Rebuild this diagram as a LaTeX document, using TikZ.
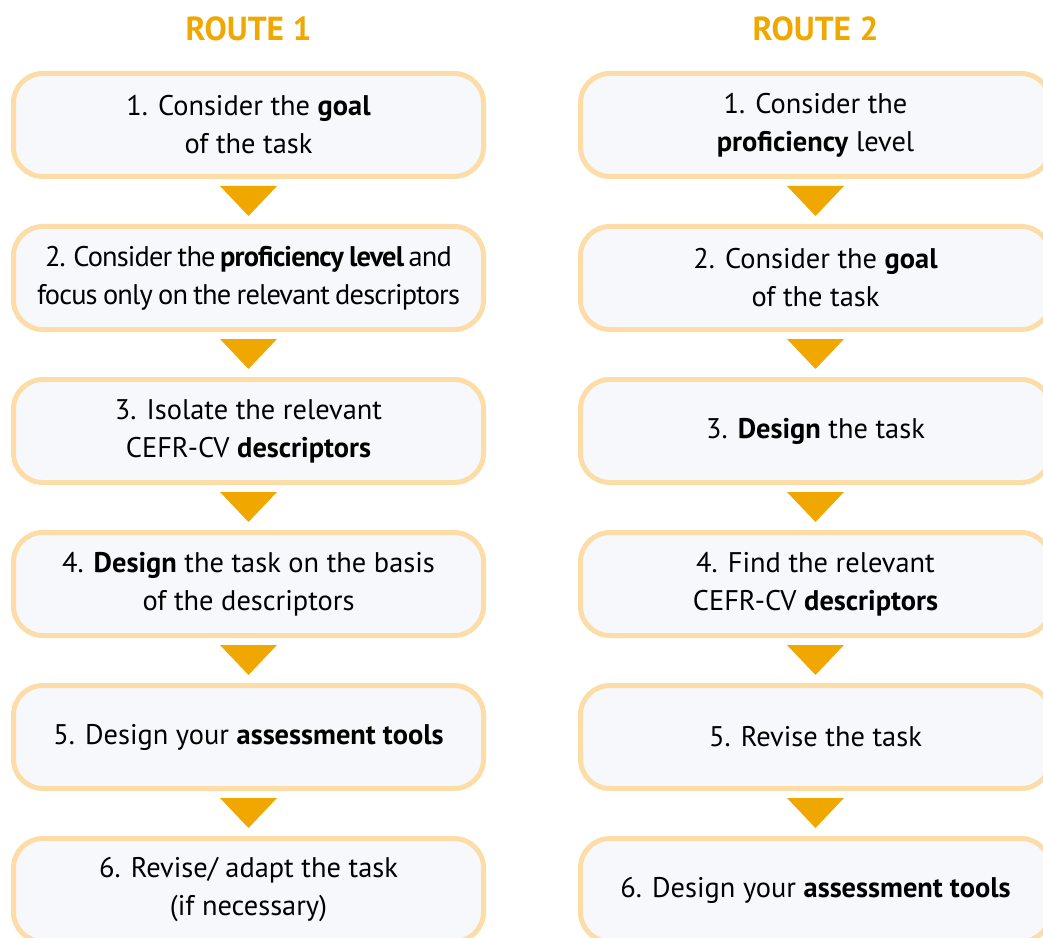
\documentclass[tikz,border=0pt]{standalone}
\usepackage{fontspec}
\setmainfont{PT Sans}
\newfontfamily\tightfont[LetterSpace=-3.0,WordSpace=0.8]{PT Sans}
\usepackage{tikz}
\usetikzlibrary{calc}
\usetikzlibrary{positioning}

\definecolor{routeorange}{RGB}{240,167,0}
\definecolor{boxline}{RGB}{252,221,167}
\definecolor{boxfill}{RGB}{247,248,252}

\begin{document}
\begin{tikzpicture}[x=0.75pt, y=-0.75pt,
		stepbox/.style={draw=boxline, fill=boxfill, line width=3.75pt, rounded corners=22pt,
			minimum width=352.5pt, minimum height=77.25pt, inner sep=0pt, align=center,
			font=\fontsize{21.3}{28.5}\selectfont},
		routehead/.style={text=routeorange, font=\fontsize{25}{28}\selectfont\bfseries},
		downtri/.style={fill=routeorange}]
	\useasboundingbox (0,0) rectangle (1043,938);
	\clip (0,0) rectangle (1043,938);
	
	\node[routehead] (h1) at (248.5,29) {ROUTE 1};
	\node[routehead] (h2) at (815.5,29) {ROUTE 2};
	
	% route 1
	\node[stepbox] (l1) at (248.5,125) {1. Consider the \textbf{goal}\\of the task};
	\node[stepbox, font=\fontsize{21.3}{28.5}\selectfont\tightfont] (l2) at (248.5,278) {2. Consider the \textbf{proficiency level} and\\focus only on the relevant descriptors};
	\node[stepbox] (l3) at (248.5,431) {3. Isolate the relevant\\CEFR-CV \textbf{descriptors}};
	\node[stepbox] (l4) at (248.5,584) {4. \textbf{Design} the task on the basis\\of the descriptors};
	\node[stepbox] (l5) at (248.5,737) {5. Design your \textbf{assessment tools}};
	\node[stepbox] (l6) at (248.5,890) {6. Revise/ adapt the task\\(if necessary)};
	
	% route 2
	\node[stepbox] (r1) at (815.5,125) {1. Consider the\\\textbf{proficiency} level};
	\node[stepbox] (r2) at (815.5,278) {2. Consider the \textbf{goal}\\of the task};
	\node[stepbox] (r3) at (815.5,431) {3. \textbf{Design} the task};
	\node[stepbox] (r4) at (815.5,584) {4. Find the relevant\\CEFR-CV \textbf{descriptors}};
	\node[stepbox] (r5) at (815.5,737) {5. Revise the task};
	\node[stepbox] (r6) at (815.5,890) {6. Design your \textbf{assessment tools}};
	
	\foreach \a/\b in {l1/l2, l2/l3, l3/l4, l4/l5, l5/l6, r1/r2, r2/r3, r3/r4, r4/r5, r5/r6}
		\fill[downtri] ($(\a.south)+(-28.5,7)$) -- ($(\a.south)+(28.5,7)$) -- ($(\b.north)+(0,-8)$) -- cycle;
\end{tikzpicture}
\end{document}
